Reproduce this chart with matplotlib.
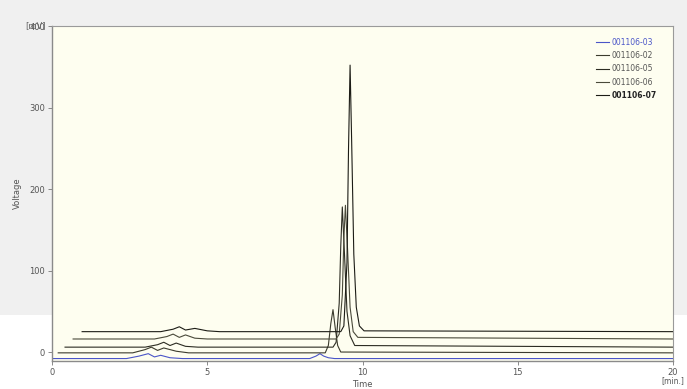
import matplotlib
matplotlib.use("Agg")
import matplotlib.pyplot as plt
from matplotlib.patches import Rectangle

# ---- data ----
labels = ["001106-03", "001106-02", "001106-05", "001106-06", "001106-07"]

t_03 = [0.0, 2.4, 2.8, 3.1, 3.3, 3.5, 3.8, 4.2, 8.3, 8.5, 8.63, 8.75, 8.9, 9.1, 20.0]
v_03 = [-8, -8, -5, -2, -6, -4, -7, -8, -8, -5, -2, -5, -7, -8, -8]

t_02 = [0.2, 2.6, 3.0, 3.2, 3.4, 3.6, 4.0, 4.4, 8.8, 8.9, 8.98, 9.05, 9.12, 9.2, 9.3, 20.0]
v_02 = [-1, -1, 3, 6, 2, 5, 1, -1, -1, 8, 35, 52, 30, 8, 0, -1]

t_05 = [0.42, 3.0, 3.4, 3.6, 3.8, 4.0, 4.3, 4.7, 9.05, 9.15, 9.25, 9.3, 9.35, 9.42, 9.5, 9.6, 9.75, 20.0]
v_05 = [6, 6, 9, 12, 8, 11, 7, 6, 6, 12, 60, 130, 178, 120, 50, 20, 8, 6]

t_06 = [0.68, 3.3, 3.7, 3.9, 4.1, 4.3, 4.6, 5.0, 9.15, 9.25, 9.35, 9.4, 9.45, 9.52, 9.6, 9.7, 9.85, 20.0]
v_06 = [16, 16, 19, 22, 18, 21, 17, 16, 16, 22, 70, 140, 180, 125, 55, 25, 18, 16]

t_07 = [0.97, 3.5, 3.9, 4.1, 4.3, 4.6, 5.0, 5.4, 9.3, 9.4, 9.5, 9.55, 9.6, 9.65, 9.72, 9.8, 9.9, 10.05, 20.0]
v_07 = [25, 25, 28, 31, 27, 29, 26, 25, 25, 32, 110, 250, 352, 260, 120, 55, 32, 26, 25]

x_ticks = [0, 5, 10, 15, 20]
y_ticks = [0, 100, 200, 300, 400]

# ---- styling ----
series = [(t_03, v_03), (t_02, v_02), (t_05, v_05), (t_06, v_06), (t_07, v_07)]
colors = ["#4a55c8", "#3c3c2e", "#2c2c22", "#4a4a3a", "#1c1c16"]
text_colors = ["#4a55c8", "#555555", "#555555", "#555555", "#222222"]

W, H = 687, 389
fig = plt.figure(figsize=(W / 100, H / 100), dpi=100)
fig.patch.set_facecolor("white")
fig.patches.append(Rectangle((0, (H - 315) / H), 1, 315 / H, transform=fig.transFigure,
                             facecolor="#f0f0f0", edgecolor="none", zorder=-10))

ax = fig.add_axes([52 / W, (H - 361) / H, (673 - 52) / W, (361 - 26) / H])
ax.set_facecolor("#fefef0")

for (t, v), c, lab in zip(series, colors, labels):
    ax.plot(t, v, color=c, lw=0.8, label=lab)

ax.set_xlim(0, 20)
ax.set_ylim(-11, 400)
ax.set_xticks(x_ticks)
ax.set_xticklabels([str(x) for x in x_ticks])
ax.set_yticks(y_ticks)
ax.set_yticklabels([str(y) for y in y_ticks])
ax.tick_params(axis="both", labelsize=6, colors="#777777", labelcolor="#555555",
               length=3, width=0.6, pad=2)

for s in ["left", "bottom"]:
    ax.spines[s].set_color("#8a8a8a")
    ax.spines[s].set_linewidth(1.0)
for s in ["top", "right"]:
    ax.spines[s].set_color("#9a9a9a")
    ax.spines[s].set_linewidth(0.8)

ax.set_xlabel("Time", fontsize=6, color="#555555", labelpad=2)
ax.set_ylabel("Voltage", fontsize=6, color="#555555", labelpad=5)

ax.text(-0.026, 1.0, "[mV]", transform=ax.transAxes, fontsize=6, color="#666666",
        ha="center", va="center")
ax.text(1.0, -0.058, "[min.]", transform=ax.transAxes, fontsize=5.5, color="#555555",
        ha="center", va="center")

leg = ax.legend(loc="upper right", bbox_to_anchor=(0.985, 0.985), frameon=False,
                fontsize=5.5, handlelength=1.6, handletextpad=0.4, labelspacing=0.55)
for txt, tc in zip(leg.get_texts(), text_colors):
    txt.set_color(tc)
leg.get_texts()[-1].set_fontweight("bold")

fig.savefig("out.png", dpi=100)
